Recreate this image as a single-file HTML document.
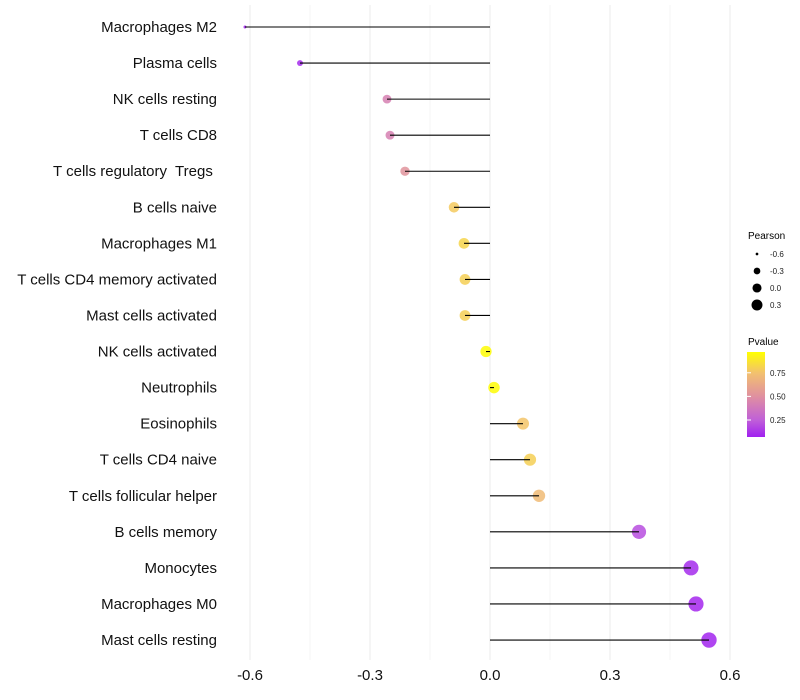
<!DOCTYPE html>
<html><head><meta charset="utf-8"><style>body{margin:0;background:#fff}svg{display:block;font-family:"Liberation Sans",sans-serif}</style></head>
<body>
<svg id="chart" width="800" height="700">
<defs><linearGradient id="pg" x1="0" y1="1" x2="0" y2="0">
<stop offset="0" stop-color="#A020F0"/><stop offset="0.2" stop-color="#C060D8"/><stop offset="0.48" stop-color="#E090A0"/><stop offset="0.75" stop-color="#F2C070"/><stop offset="1" stop-color="#FFFF00"/></linearGradient></defs>
<g id="grid"></g><g id="points"></g><g id="marks"></g><g id="labels"></g>
<g font-size="10">
<text x="748" y="239" font-size="10">Pearson</text>
<g id="sizeLeg"></g>
<text x="748" y="345" font-size="10">Pvalue</text>
<rect x="747" y="352" width="18" height="85" fill="url(#pg)"/>
<g id="colLeg"></g>
</g>
</svg>
<script>
const categories=["Macrophages M2","Plasma cells","NK cells resting","T cells CD8","T cells regulatory  Tregs ","B cells naive","Macrophages M1","T cells CD4 memory activated","Mast cells activated","NK cells activated","Neutrophils","Eosinophils","T cells CD4 naive","T cells follicular helper","B cells memory","Monocytes","Macrophages M0","Mast cells resting"];
const pearson=[-0.6125,-0.475,-0.2575,-0.25,-0.2125,-0.09,-0.065,-0.0625,-0.0625,-0.01,0.01,0.0825,0.1,0.1225,0.3725,0.5025,0.515,0.5475];
const pvalues=[0.03,0.1,0.42,0.42,0.52,0.78,0.82,0.8,0.8,0.96,0.96,0.76,0.8,0.72,0.2,0.1,0.09,0.08];
const xTicks=[-0.6,-0.3,0.0,0.3,0.6];
const xTickLabels=["-0.6","-0.3","0.0","0.3","0.6"];
const sizeLegVals=[-0.6,-0.3,0.0,0.3];
const colLegVals=[0.25,0.5,0.75];
const NS="http://www.w3.org/2000/svg";
const x=v=>490+v*400;
const y=i=>27+i*36.06;
const r=v=>1.15*Math.sqrt(Math.max(0,1.7+37*(v+0.6125)));
const pY=p=>437-(p-0.07)/(0.97-0.07)*85;
const stops=[[0,[160,32,240]],[0.2,[192,96,216]],[0.48,[224,144,160]],[0.75,[242,192,112]],[1,[255,255,0]]];
function col(p){let t=Math.max(0,Math.min(1,(p-0.07)/0.9));for(let k=1;k<stops.length;k++){if(t<=stops[k][0]){const a=stops[k-1],b=stops[k];const u=(t-a[0])/(b[0]-a[0]);return 'rgb('+a[1].map((c,i)=>Math.round(c+(b[1][i]-c)*u))+')';}}return 'rgb(255,255,0)';}
function mk(tag,attrs,parent){const e=document.createElementNS(NS,tag);for(const k in attrs)e.setAttribute(k,attrs[k]);parent.appendChild(e);return e;}
const grid=document.getElementById('grid'),marks=document.getElementById('marks'),points=document.getElementById('points'),labels=document.getElementById('labels');
xTicks.forEach((t,i)=>{
 const g=mk('line',{x1:x(t),x2:x(t),y1:5,y2:660,stroke:'#ebebeb','stroke-width':1},grid);
 
 if(i<xTicks.length-1){const m=mk('line',{x1:x(t+0.15),x2:x(t+0.15),y1:5,y2:660,stroke:'#f4f4f4','stroke-width':1},grid);
 }
 const tx=mk('text',{x:x(t),y:680,'text-anchor':'middle','font-size':15,fill:'#111'},labels);tx.textContent=xTickLabels[i];
 
});
categories.forEach((c,i)=>{
 const ci=mk('circle',{cx:x(pearson[i]),cy:y(i),r:r(pearson[i]),fill:col(pvalues[i]),'fill-opacity':0.85},points);
 
 const ln=mk('line',{x1:x(0),x2:x(pearson[i]),y1:y(i),y2:y(i),stroke:'#000','stroke-width':1.1},marks);
 
 const t=mk('text',{x:217,y:y(i)+5,'text-anchor':'end','font-size':15,fill:'#111'},labels);t.textContent=c;
 t.setAttribute('style','white-space:pre');
 
});
const sl=document.getElementById('sizeLeg');
sizeLegVals.forEach((v,i)=>{
 const cy=254+i*17;
 const c=mk('circle',{cx:757,cy:cy,r:r(v)*0.8,fill:'#000'},sl);
 
 const t=mk('text',{x:770,y:cy+3,'font-size':8,fill:'#222'},sl);t.textContent=v.toFixed(1);
 
});
const cl=document.getElementById('colLeg');
colLegVals.forEach(v=>{
 const t=mk('text',{x:770,y:pY(v)+3,'font-size':8,fill:'#222'},cl);t.textContent=v.toFixed(2);
 
 const l=mk('line',{x1:747,x2:751,y1:pY(v),y2:pY(v),stroke:'#fff'},cl);
 
});
</script>
</body></html>
